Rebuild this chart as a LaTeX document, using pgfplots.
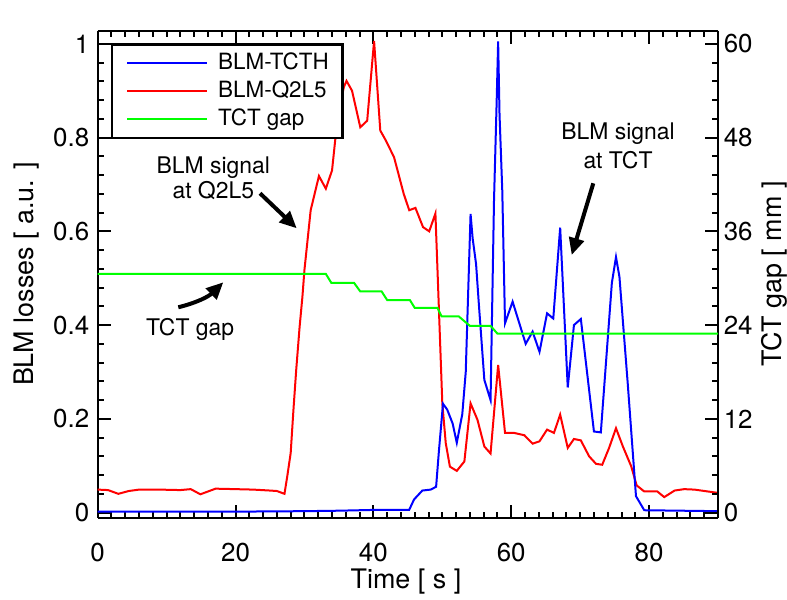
\documentclass[border=0pt]{standalone}
\usepackage{fontspec}
\setmainfont{TeX Gyre Heros}
\usepackage{pgfplots}
\pgfplotsset{compat=1.18}
\usetikzlibrary{arrows.meta}

\pgfplotstableread{
t v
0 0.002
10 0.002
20 0.002
30 0.003
35 0.004
41 0.006
45.2 0.006
45.9 0.028
47.1 0.047
48.3 0.049
49.1 0.055
49.5 0.13
50.1 0.232
50.7 0.22
51.5 0.19
52.1 0.149
52.9 0.21
53.4 0.30
54.1 0.637
54.4 0.585
54.9 0.53
55.3 0.445
56.1 0.283
57.0 0.24
57.5 0.665
57.9 0.885
58.1 1.005
58.3 0.85
58.7 0.687
59.1 0.404
60.2 0.45
62.1 0.36
63.1 0.386
64.1 0.343
65.2 0.425
66.1 0.414
67.1 0.608
68.2 0.267
69.1 0.40
70.1 0.413
72.0 0.173
73.0 0.171
74.6 0.49
75.2 0.545
75.7 0.503
76.9 0.276
78.1 0.035
79.3 0.005
90 0.003
}\tcth

\pgfplotstableread{
t v
0 0.049
1.5 0.048
3.0 0.040
4.5 0.046
6 0.049
9 0.049
12 0.048
13.5 0.050
14.9 0.039
16 0.045
17.1 0.051
20 0.050
22.6 0.049
25 0.047
26 0.046
27.1 0.040
27.5 0.077
28.0 0.127
28.4 0.219
28.8 0.304
29.3 0.397
29.7 0.46
30.0 0.518
30.9 0.645
32.1 0.718
33.1 0.691
34.0 0.730
34.5 0.80
35.2 0.87
35.7 0.907
36.1 0.921
36.9 0.90
38.1 0.822
39.1 0.836
40.1 1.006
41.0 0.815
41.8 0.794
43.0 0.758
44.4 0.68
45.2 0.645
46.1 0.65
47.2 0.609
48.1 0.60
49.0 0.638
49.3 0.518
50.0 0.233
50.5 0.148
51.1 0.098
52.1 0.089
53.2 0.109
54.1 0.233
55.1 0.198
56.1 0.141
57.0 0.126
58.1 0.315
59.1 0.17
60.4 0.17
61.9 0.165
63.1 0.147
64.1 0.152
65.2 0.177
66.2 0.17
67.1 0.209
68.2 0.138
69.1 0.157
70.1 0.154
71.3 0.12
72.3 0.104
73.2 0.102
74.2 0.138
75.2 0.18
76.2 0.141
77.4 0.099
78.2 0.058
79.3 0.045
81.2 0.045
82.2 0.033
83.7 0.047
85.1 0.05
86.6 0.049
90 0.042
}\qtwo

\pgfplotstableread{
t g
0 30.55
33.1 30.55
33.9 29.4
37.2 29.4
38.1 28.3
41.2 28.3
42.0 27.2
45.3 27.2
46.0 26.2
49.3 26.2
49.9 25.1
52.4 25.1
54.0 23.9
57.0 23.9
58.0 22.9
90 22.9
}\gap

\begin{document}
\begin{tikzpicture}
\pgfplotsset{
  common/.style={
    width=620.3bp, height=486.8bp, scale only axis,
    at={(0,0)}, anchor=south west,
    xmin=0, xmax=90,
    axis line style={line width=2bp},
    every tick/.style={black, line width=2bp},
    major tick length=13bp, minor tick length=6bp,
    tick align=inside,
    /pgf/number format/assume math mode=true,
    ticklabel style={font=\fontsize{26}{30}\selectfont},
    label style={font=\fontsize{27}{32}\selectfont},
  }
}
\begin{axis}[common,
  axis y line*=left,
  ymin=-0.0105, ymax=1.028,
  xtick={0,20,40,60,80},
  minor xtick={0,2,...,90},
  ytick={0,0.2,0.4,0.6,0.8,1},
  yticklabels={0,0.2,0.4,0.6,0.8,1},
  minor y tick num=4,
  xticklabel style={yshift=-22bp},
  yticklabel style={xshift=-5bp},
  xlabel={Time [ s ]},
  xlabel style={at={(axis description cs:0.497,-0.145)}, anchor=base},
  ylabel={BLM losses [ a.u. ]},
  ylabel style={at={(axis description cs:-0.1043,0.5)}, anchor=base},
]
\addplot[red, line width=2bp] table[x=t, y=v] {\qtwo};
\addplot[blue, line width=2bp] table[x=t, y=v] {\tcth};
\end{axis}
\begin{axis}[common,
  axis y line*=right,
  axis x line=none,
  ymin=-0.63, ymax=61.68,
  ytick={0,12,24,36,48,60},
  minor y tick num=4,
  yticklabel style={xshift=2.3bp},
  ylabel={TCT gap [ mm ]},
  ylabel style={at={(axis description cs:1.103,0.5)}, anchor=base},
  legend cell align=left,
  legend image code/.code={\draw[#1, line width=2bp] (0bp,0bp) -- (80bp,0bp);},
  legend style={draw=black, line width=2.5bp, fill=white,
    font=\fontsize{22.5}{27}\selectfont,
    at={(axis description cs:0.0214,0.974)}, anchor=north west,
    inner xsep=14bp, inner ysep=7.7bp, row sep=6bp, column sep=10bp,
    nodes={inner sep=0bp, text height=17bp, text depth=5bp}},
]
\addlegendimage{blue}
\addlegendentry{BLM-TCTH}
\addlegendimage{red}
\addlegendentry{BLM-Q2L5}
\addplot[green, line width=2bp] table[x=t, y=g] {\gap};
\addlegendentry{TCT gap}
\end{axis}
\begin{scope}[font=\fontsize{23}{28}\selectfont]
\node[anchor=base] at (115.6bp,344.2bp) {BLM signal};
\node[anchor=base] at (115.6bp,319.2bp) {at Q2L5};
\draw[line width=4bp, -{Triangle[length=17bp,width=15bp]}] (162.3bp,324.2bp) -- (199bp,289.2bp);
\node[anchor=base] at (520.3bp,377.5bp) {BLM signal};
\node[anchor=base] at (520.3bp,349.2bp) {at TCT};
\draw[line width=4bp, -{Triangle[length=17bp,width=15bp]}] (495.6bp,334.2bp) -- (474bp,262.5bp);
\node[anchor=base] at (92.3bp,181.5bp) {TCT gap};
\draw[line width=4bp, -{Triangle[length=17bp,width=15bp]}] (80.6bp,210.2bp) to[bend right=15] (125.6bp,235.2bp);
\end{scope}
\pgfresetboundingbox
\path[use as bounding box] (-97.7bp,-82.5bp) rectangle (689.3bp,517.5bp);
\end{tikzpicture}
\end{document}
